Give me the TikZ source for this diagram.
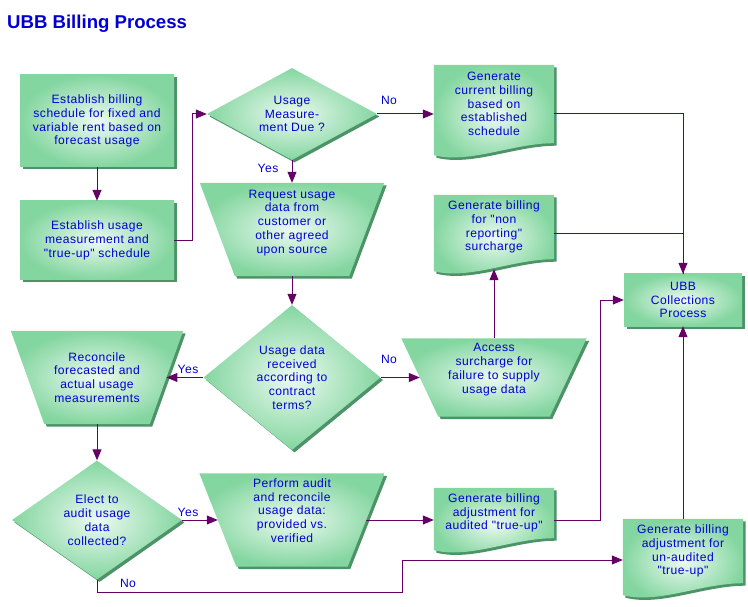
\documentclass[tikz,border=0pt]{standalone}
\usepackage{fontspec}
\setmainfont[LetterSpace=4,Ligatures=TeXOff]{Liberation Sans}
\newfontfamily\titlefont{Liberation Sans}
\usetikzlibrary{arrows.meta,positioning,calc,shapes.geometric,shadows,backgrounds}
\definecolor{boxgreen}{RGB}{132,214,160}
\definecolor{boxlight}{RGB}{236,250,241}
\definecolor{boxshadow}{RGB}{76,148,104}
\definecolor{flowline}{RGB}{102,0,102}
\definecolor{textblue}{RGB}{0,0,210}

\newcommand{\docwave}[1]{\path[shapefill] (#1.north west) -- (#1.north east) -- (#1.south east)
  .. controls +(-42,0) and +(36,9) .. ($(#1.south west)+(0,12)$) -- cycle;}
\newcommand{\trapshape}[2]{\path[shapefill] (#1.north west) -- (#1.north east)
  -- ($(#1.south east)+(-#2,0)$) -- ($(#1.south west)+(#2,0)$) -- cycle;}

\begin{document}
\begin{tikzpicture}[x=1pt,y=-1pt,
    txt/.style={font=\fontsize{12.1}{13.8}\selectfont, text=textblue, align=center, inner sep=0},
    shapefill/.style={inner color=boxlight, outer color=boxgreen,
      drop shadow={shadow xshift=2.5pt, shadow yshift=-2.5pt, opacity=1, fill=boxshadow}},
    procbox/.style={txt, rectangle, shapefill},
    decision/.style={txt, diamond, shapefill},
    plain/.style={txt, rectangle},
    lbl/.style={txt},
    flow/.style={draw=flowline, line width=1pt, -{Triangle[length=11pt,width=9pt]}},
    line/.style={draw=flowline, line width=1pt}]
	\useasboundingbox (0,0) rectangle (748,607);
	\node[anchor=west, inner sep=0, text=textblue, font=\titlefont\fontsize{18.6}{22}\bfseries\selectfont] (title) at (7,24) {UBB Billing Process};

	\node[procbox, minimum width=154, minimum height=92] (billsched) at (97,121) {Establish billing\\schedule for fixed and\\variable rent based on\\forecast usage};
	\node[procbox, minimum width=154, minimum height=79] (measureplan) at (97,240.5) {Establish usage\\measurement and\\"true-up" schedule};
	\node[decision, minimum width=170, minimum height=92, aspect=1.85] (measuredue) at (292,114) {Usage\\Measure-\\ment Due ?};
	\node[plain, minimum width=184, minimum height=93] (requestdata) at (292,229.5) {Request usage\\data from\\customer or\\other agreed\\upon source\rule[-16pt]{0pt}{16pt}};
	\node[decision, minimum width=177, minimum height=145, aspect=1.2] (datareceived) at (292,377.5) {Usage data\\received\\according to\\contract\\terms?};
	\node[plain, minimum width=172, minimum height=93] (reconcile) at (97,377.5) {Reconcile\\forecasted and\\actual usage\\measurements};
	\node[decision, minimum width=170, minimum height=119, aspect=1.43] (electaudit) at (97,520) {Elect to\\audit usage\\data\\collected?};
	\node[plain, minimum width=185, minimum height=93] (performaudit) at (292,520) {Perform audit\\and reconcile\\usage data:\\provided vs.\\verified\rule[-19pt]{0pt}{19pt}};
	\node[plain, minimum width=185, minimum height=78] (surcharge) at (494,377.5) {Access\\surcharge for\\failure to supply\\usage data\rule[-18pt]{0pt}{18pt}};
	\node[plain, minimum width=120, minimum height=78] (currentbill) at (494,104) {Generate\\current billing\\based on\\established\\schedule};
	\node[plain, minimum width=120, minimum height=64] (nonreport) at (494,227) {Generate billing\\for "non\\reporting"\\surcharge};
	\node[plain, minimum width=120, minimum height=50] (auditedbill) at (494,513) {Generate billing\\adjustment for\\audited "true-up"};
	\node[plain, minimum width=120, minimum height=64] (unauditedbill) at (683,551) {Generate billing\\adjustment for\\un-audited\\"true-up"};
	\node[procbox, minimum width=118, minimum height=52] (collections) at (683,300) {UBB\\Collections\\Process};

	\begin{scope}[on background layer]
		\trapshape{requestdata}{35}
		\trapshape{reconcile}{33.5}
		\trapshape{performaudit}{37}
		\trapshape{surcharge}{37}
		\docwave{currentbill}
		\docwave{nonreport}
		\docwave{auditedbill}
		\docwave{unauditedbill}
	\end{scope}

	\draw[flow] (billsched) -- (measureplan);
	\draw[flow] (measureplan.east) -- ++(18,0) |- (measuredue.west);
	\draw[flow] (measuredue) -- (requestdata);
	\draw[flow] (measuredue) -- (measuredue -| currentbill.west);
	\draw[flow] (currentbill.east |- measuredue) -| (collections.north);
	\draw[line] ($(nonreport.east)+(0,7)$) -| (collections.north);
	\draw[flow] (requestdata) -- (datareceived);
	\draw[flow] (datareceived) -- ($(reconcile.east)+(-16.75,0)$);
	\draw[flow] (datareceived) -- ($(surcharge.west)+(18.5,0)$);
	\draw[flow] (surcharge) -- ($(nonreport.south)+(0,10)$);
	\draw[flow] (reconcile) -- (electaudit);
	\draw[flow] (electaudit) -- ($(performaudit.west)+(18.5,0)$);
	\draw[flow] ($(performaudit.east)+(-18.5,0)$) -- (performaudit.east -| auditedbill.west);
	\draw[flow] ($(auditedbill.east)+(0,7)$) -- ++(46,0) |- (collections.west);
	\draw[flow] (unauditedbill) -- (collections);
	\draw[flow] (electaudit.south) -- ++(0,13) -| ($(unauditedbill.west)+(-220,9)$) -- ($(unauditedbill.west)+(0,9)$);

	\node[lbl] (yesdue) at (268,168) {Yes};
	\node[lbl] (nodue) at (389,100) {No};
	\node[lbl] (yesrecv) at (188,369) {Yes};
	\node[lbl] (norecv) at (389,359) {No};
	\node[lbl] (yesaudit) at (188,512) {Yes};
	\node[lbl] (noaudit) at (128,583) {No};
\end{tikzpicture}
\end{document}
